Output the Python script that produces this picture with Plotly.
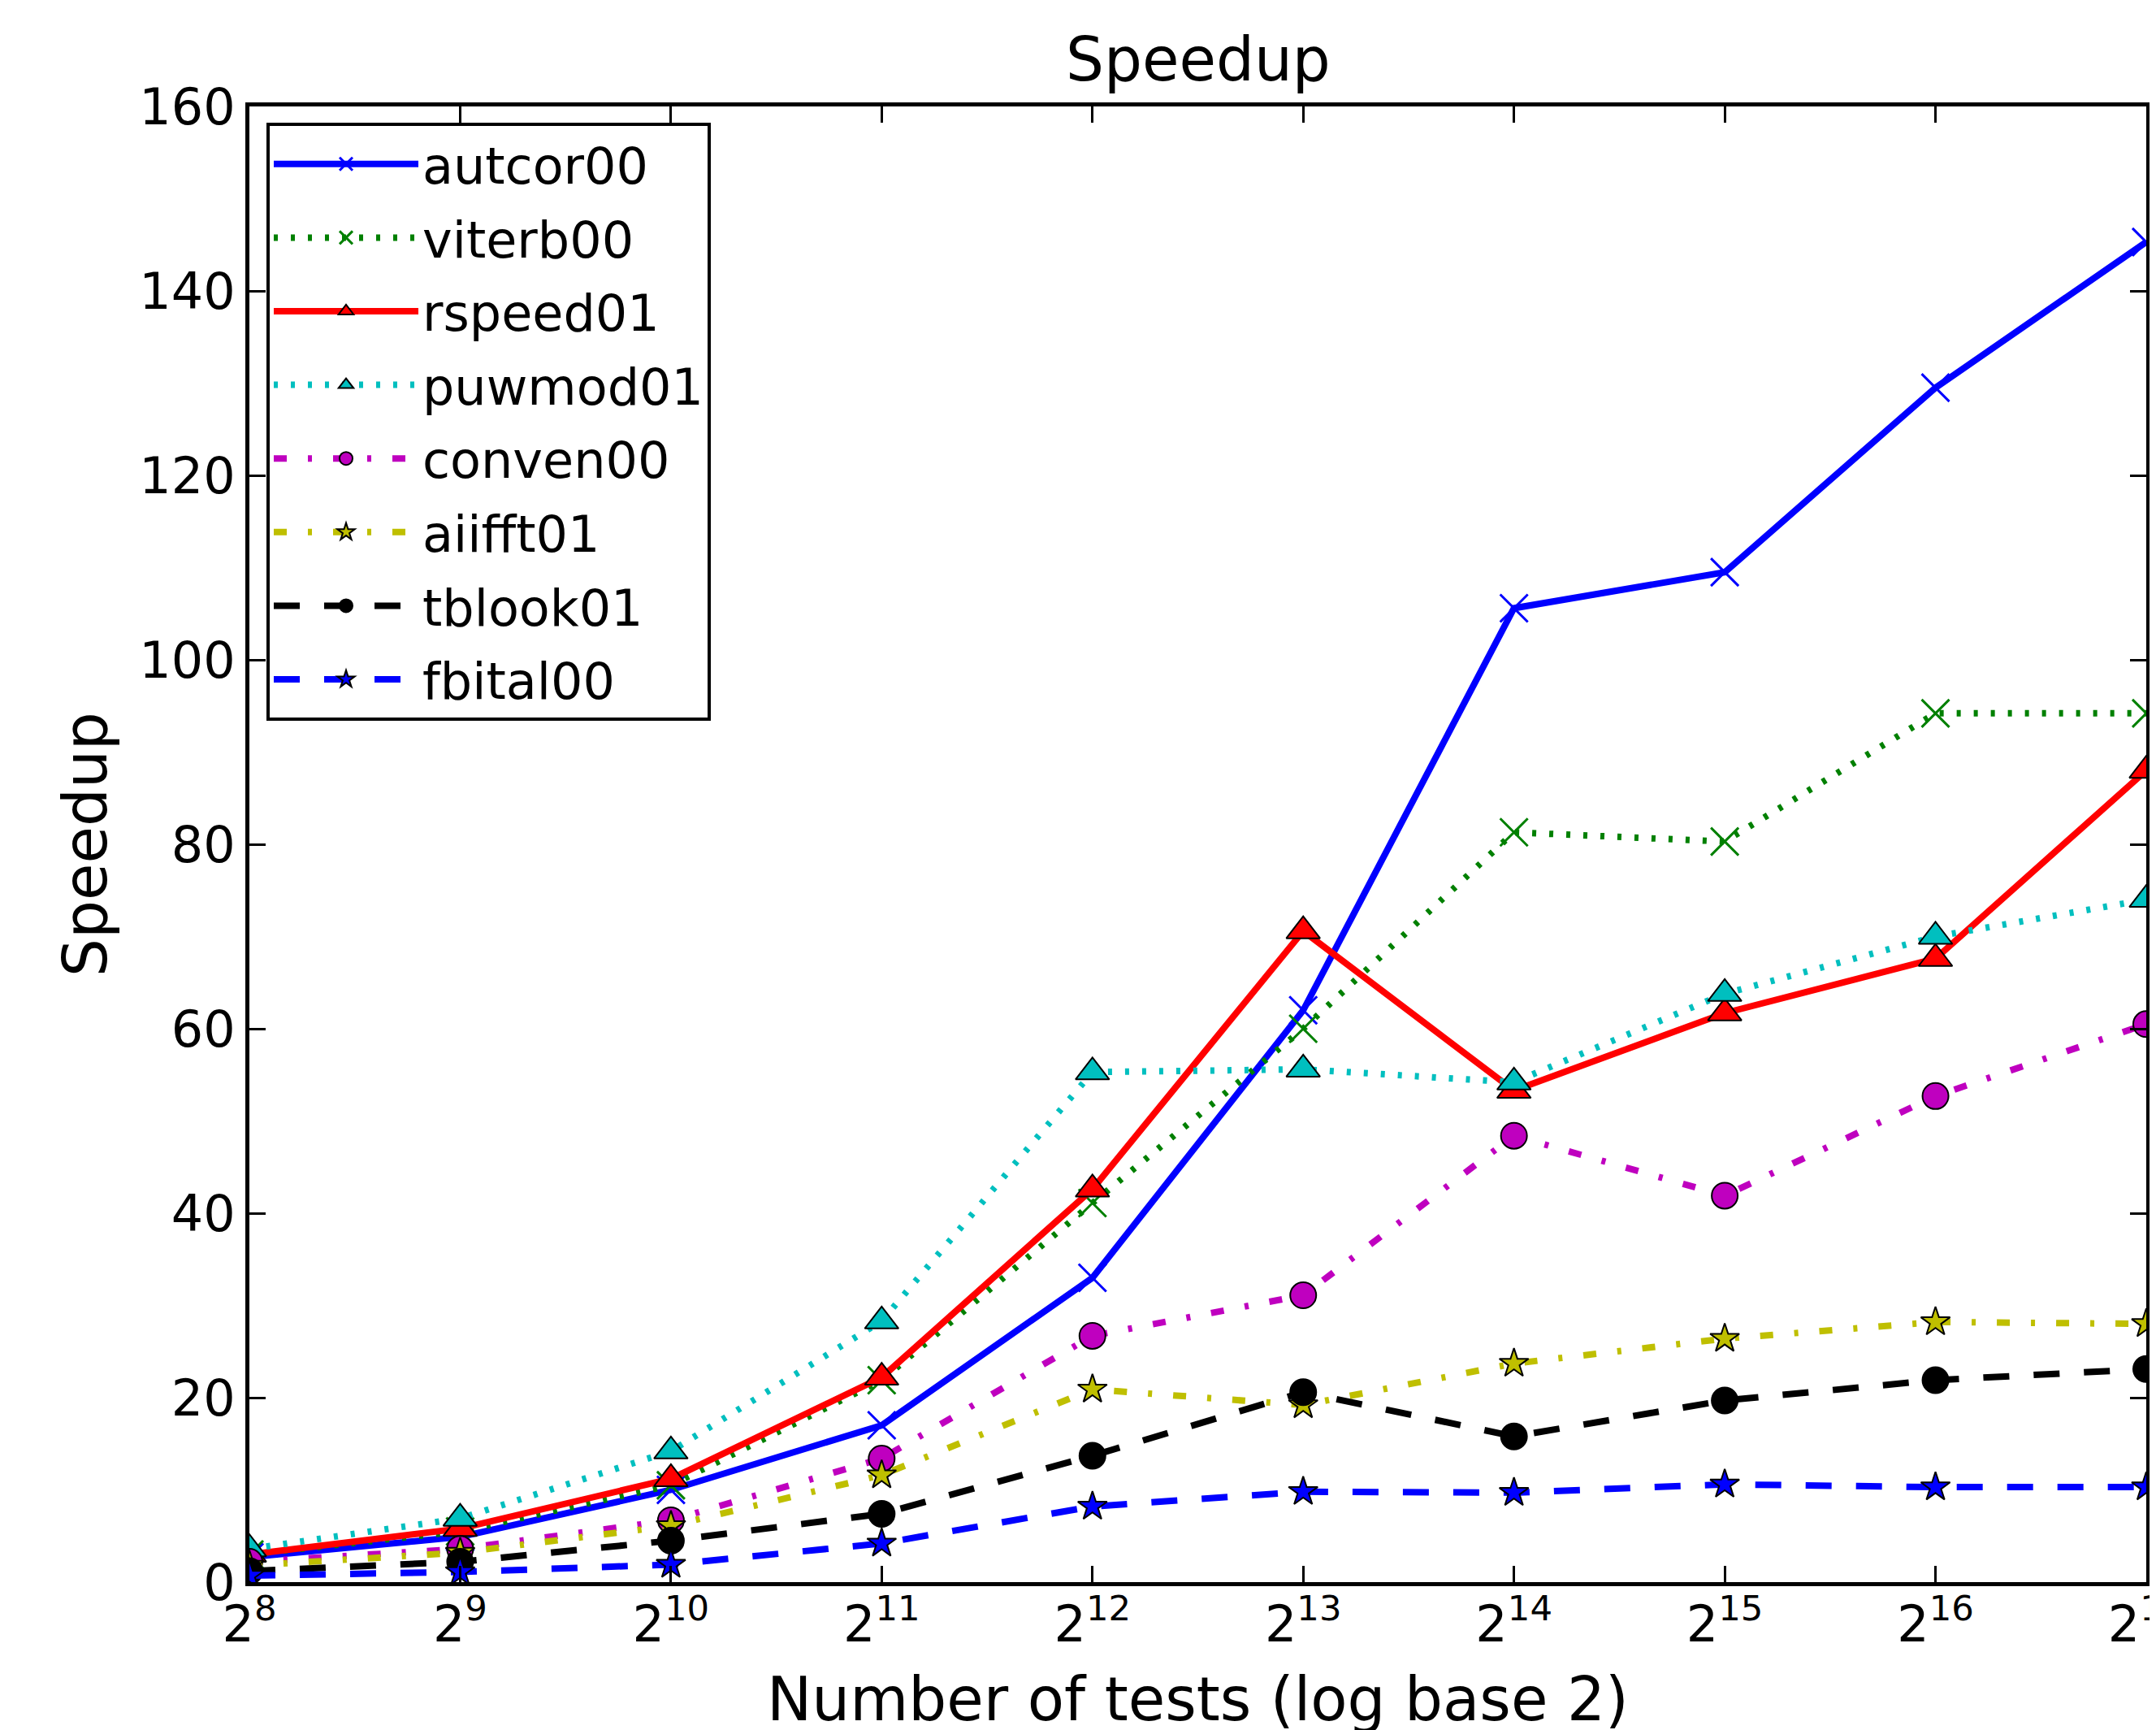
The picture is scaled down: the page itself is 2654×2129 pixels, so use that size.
import math
import plotly.graph_objects as go

exponents = list(range(8, 18))
num_tests = [2 ** k for k in exponents]
tick_labels = [f"2<sup>{k}</sup>" for k in exponents]

autcor00 = [2.7, 4.9, 10.0, 17.0, 33.0, 62.0, 105.6, 109.5, 129.5, 145.3]
viterb00 = [3.0, 5.5, 10.5, 21.9, 41.1, 60.0, 81.3, 80.3, 94.2, 94.2]
rspeed01 = [3.0, 5.8, 11.2, 22.2, 42.6, 70.6, 53.3, 61.7, 67.6, 88.0]
puwmod01 = [3.6, 6.9, 14.2, 28.3, 55.3, 55.6, 54.2, 63.8, 70.0, 74.0]
conven00 = [2.2, 3.6, 6.7, 13.4, 26.7, 31.1, 48.4, 41.9, 52.7, 60.5]
aiifft01 = [1.8, 3.2, 6.1, 11.6, 20.9, 19.2, 23.7, 26.4, 28.2, 28.0]
tblook01 = [1.2, 2.2, 4.5, 7.4, 13.7, 20.6, 15.8, 19.7, 21.9, 23.1]
fbital00 = [0.7, 1.1, 1.9, 4.2, 8.2, 9.8, 9.7, 10.6, 10.3, 10.3]

y_ticks = list(range(0, 161, 20))

FONT = "DejaVu Sans"
DOT = "5px,16px"
DASH = "32px,30px"
DASHDOT = "16px,26px,5px,26px"

series = [
    ("autcor00", autcor00, "#0000ff", "solid", "x-thin", "#0000ff", 34),
    ("viterb00", viterb00, "#008000", DOT, "x-thin", "#008000", 34),
    ("rspeed01", rspeed01, "#ff0000", "solid", "triangle-up", "#000000", 36),
    ("puwmod01", puwmod01, "#00bfbf", DOT, "triangle-up", "#000000", 36),
    ("conven00", conven00, "#bf00bf", DASHDOT, "circle", "#000000", 32),
    ("aiifft01", aiifft01, "#bfbf00", DASHDOT, "star", "#000000", 27),
    ("tblook01", tblook01, "#000000", DASH, "circle", "#000000", 32),
    ("fbital00", fbital00, "#0000ff", DASH, "star", "#000000", 27),
]

fig = go.Figure()
for name, vals, color, dash, sym, edge, msize in series:
    thin = sym == "x-thin"
    fig.add_trace(go.Scatter(
        x=num_tests, y=vals, name=name, legendgroup=name, mode="lines+markers",
        line=dict(color=color, width=8, dash=dash),
        marker=dict(symbol=sym, size=msize, color=color,
                    line=dict(color=edge, width=3 if thin else 2)),
        cliponaxis=True,
    ))

W, H = 2654, 2129
# plot area edges (axis lines of width 5 are drawn just outside these)
L, R, T, B = 299, 2634, 123, 1939

axis_common = dict(
    showline=True, linewidth=5, linecolor="black", mirror="allticks",
    ticks="inside", ticklen=20, tickwidth=3, tickcolor="black",
    showgrid=False, zeroline=False, ticklabeloverflow="allow",
    tickfont=dict(family=FONT, size=62, color="black"),
)

fig.update_layout(
    width=W, height=H,
    margin=dict(l=L, r=W - R, t=T, b=H - B, autoexpand=False),
    paper_bgcolor="white", plot_bgcolor="white",
    font=dict(family=FONT, color="black"),
    xaxis=dict(type="log", range=[math.log10(256), math.log10(131072)],
               tickvals=num_tests, ticktext=tick_labels,
               ticklabelstandoff=-6, **axis_common),
    yaxis=dict(range=[0, 160], tickvals=y_ticks, **axis_common),
    showlegend=True,
    legend=dict(
        x=(320 - L) / (R - L), y=1 - (143 - T) / (B - T),
        xanchor="left", yanchor="top",
        bgcolor="white", bordercolor="black", borderwidth=4,
        font=dict(family=FONT, size=62, color="black"),
        itemwidth=178, tracegroupgap=7, traceorder="grouped",
    ),
    annotations=[
        dict(text="Speedup", xref="paper", yref="paper", x=0.5,
             y=1 + (T - 65) / (B - T), xanchor="center", yanchor="middle",
             showarrow=False, font=dict(family=FONT, size=74, color="black")),
        dict(text="Number of tests (log base 2)", xref="paper", yref="paper",
             x=0.5, y=-(2083 - B) / (B - T), xanchor="center", yanchor="middle",
             showarrow=False, font=dict(family=FONT, size=74, color="black")),
        dict(text="Speedup", xref="paper", yref="paper",
             x=-(L - 97) / (R - L), y=0.5, xanchor="center", yanchor="middle",
             textangle=-90, showarrow=False,
             font=dict(family=FONT, size=74, color="black")),
    ],
)

fig.write_html("out.html")
